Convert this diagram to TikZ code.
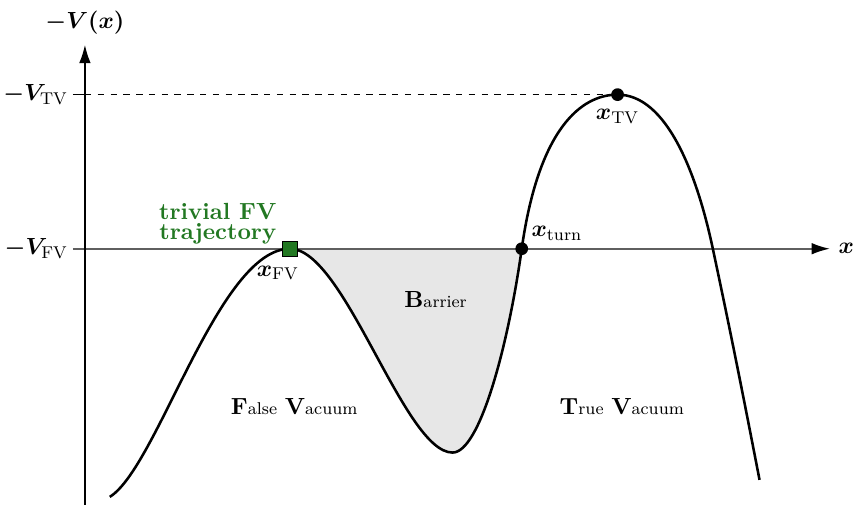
\documentclass[tikz,11pt,border=0pt]{standalone}
\usepackage{amsmath}
\usepackage{amssymb}
\usepackage{bm}
\usepackage{tikz}
\usetikzlibrary{arrows.meta}
\definecolor{fvgreen}{RGB}{34,120,34}
\definecolor{barriergray}{RGB}{231,231,231}
\definecolor{axisgray}{RGB}{95,95,95}
\newcommand{\bigfirst}[2]{\textbf{#1}{\scriptsize #2}}

\begin{document}
\begin{tikzpicture}[>={Latex[length=3mm,width=1.9mm,black]},
  dot/.style={circle, fill=black, inner sep=0pt, minimum size=0.21cm},
  fvbox/.style={rectangle, draw=black, fill=fvgreen, inner sep=0pt, minimum size=0.25cm}]
\useasboundingbox (-1.40,-4.22) rectangle (12.71,4.10);

% Points on the potential
\coordinate (start) at (0.41,-4.09);
\coordinate (FV) at (3.38,0);
\coordinate (min) at (6.06,-3.36);
\coordinate (turn) at (7.20,0);
\coordinate (TV) at (8.78,2.54);
\coordinate (cross) at (10.35,0);
\coordinate (end) at (11.12,-3.81);

% Shaded barrier
\fill[barriergray] (FV) .. controls (4.28,0) and (5.26,-3.36) .. (min)
  .. controls (6.51,-3.36) and (6.98,-1.58) .. (turn) -- cycle;

% Axes
\draw[->, thick, axisgray] (-0.2,0) -- (12.28,0) node[right, black] (xlabel) {$\bm{x}$};
\draw[->, semithick] (0,-4.22) -- (0,3.36) node[above, yshift=1pt] (ylabel) {$\bm{-V(x)}$};

% Levels
\node[left, inner sep=2pt] (VFV) at (-0.2,0) {$\bm{-V}_{\mathrm{FV}}$};
\node[left, inner sep=2pt] (VTV) at (-0.2,2.54) {$\bm{-V}_{\mathrm{TV}}$};
\draw (-0.2,2.54) -- (0,2.54);
\draw[dashed] (0,2.54) -- (TV);

% Potential
\draw[very thick] (start) .. controls (1.2,-3.6) and (2.2,0) .. (FV)
  .. controls (4.28,0) and (5.26,-3.36) .. (min)
  .. controls (6.51,-3.36) and (6.98,-1.58) .. (turn)
  .. controls (7.48,1.98) and (8.18,2.54) .. (TV)
  .. controls (9.58,2.54) and (10.08,1.27) .. (cross)
  to[out=-78, in=101] (end);

% Marked points
\node[fvbox] (fvpt) at (FV) {};
\node[dot] (turnpt) at (turn) {};
\node[dot] (tvpt) at (TV) {};
\node (xfv) at (3.18,-0.40) {$\bm{x}_{\mathrm{FV}}$};
\node (xturn) at (7.78,0.25) {$\bm{x}_{\mathrm{turn}}$};
\node (xtv) at (8.78,2.18) {$\bm{x}_{\mathrm{TV}}$};
\node[fvgreen, font=\bfseries, align=center] (trivial) at (2.19,0.41) {trivial FV\\[-4pt]trajectory};

% Regions
\node (barrier) at (5.78,-0.84) {\bigfirst{B}{arrier}};
\node (false) at (3.45,-2.60) {\bigfirst{F}{alse} \bigfirst{V}{acuum}};
\node (true) at (8.85,-2.60) {\bigfirst{T}{rue} \bigfirst{V}{acuum}};
\end{tikzpicture}
\end{document}
